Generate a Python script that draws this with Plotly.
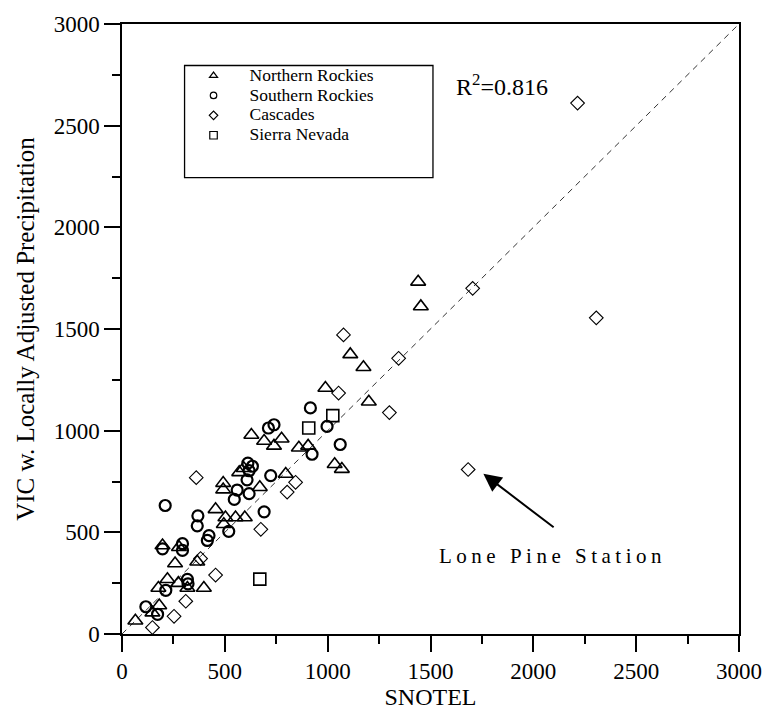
import plotly.graph_objects as go

# SNOTEL observed vs. VIC simulated (locally adjusted precipitation), by region
nr_snotel = [65, 148, 181, 177, 221, 274, 318, 398, 258, 197, 277, 366, 495, 455, 503, 552, 597,
             492, 492, 570, 592, 629, 670, 691, 739, 776, 796, 860, 905, 1034, 1069, 989, 1110,
             1174, 1200, 1440, 1453]
nr_vic = [65, 105, 140, 226, 269, 250, 226, 226, 347, 435, 427, 355, 540, 613, 573, 573, 573,
          742, 710, 795, 815, 979, 722, 949, 925, 960, 787, 916, 925, 835, 811, 1210, 1375,
          1312, 1142, 1732, 1611]

sr_snotel = [116, 173, 213, 318, 321, 197, 294, 294, 366, 369, 415, 423, 519, 210, 546, 560, 608,
             612, 634, 618, 618, 691, 723, 712, 739, 924, 916, 997, 1061]
sr_vic = [134, 97, 215, 269, 247, 419, 444, 411, 532, 581, 460, 484, 505, 632, 662, 708, 758,
          840, 825, 803, 690, 601, 779, 1013, 1029, 884, 1112, 1021, 932]

cs_snotel = [148, 253, 310, 455, 382, 361, 675, 803, 844, 1053, 1077, 1300, 1345, 1705, 1683,
             2215, 2306]
cs_vic = [32, 87, 161, 290, 371, 769, 515, 698, 746, 1185, 1471, 1089, 1356, 1700, 809,
          2611, 1555]

sn_snotel = [670, 908, 1025]
sn_vic = [270, 1013, 1074]

region_names = ["Northern Rockies", "Southern Rockies", "Cascades", "Sierra Nevada"]
r_squared = 0.816
axis_max = 3000
tick_values = [0, 500, 1000, 1500, 2000, 2500, 3000]

lone_pine = (1683, 809)
lone_pine_label = "Lone Pine Station"

FONT = "Liberation Serif"

series = [
    (nr_snotel, nr_vic, "triangle-up-open", 13, 1.6, 7),
    (sr_snotel, sr_vic, "circle-open", 11, 2.2, 6.5),
    (cs_snotel, cs_vic, "diamond-open", 10.5, 1.1, 6.5),
    (sn_snotel, sn_vic, "square-open", 12, 1.6, 7.5),
]

fig = go.Figure()

# 1:1 reference line
fig.add_trace(go.Scatter(
    x=[0, axis_max], y=[0, axis_max], mode="lines",
    line=dict(color="#333333", width=1, dash="6px,5px"),
    showlegend=False, hoverinfo="skip"))

for (xs, ys, sym, size, lw, _), name in zip(series, region_names):
    fig.add_trace(go.Scatter(
        x=xs, y=ys, mode="markers", name=name, showlegend=False,
        marker=dict(symbol=sym, size=size, color="black", line=dict(color="black", width=lw))))

# small legend glyphs
for (xs, ys, sym, size, lw, lsize), name in zip(series, region_names):
    fig.add_trace(go.Scatter(
        x=[None], y=[None], mode="markers",
        name=f'<span style="font-size:17.5px">{name}</span>',
        marker=dict(symbol=sym, size=lsize, color="black", line=dict(color="black", width=1.2))))

fig.add_annotation(
    x=1848, y=2700, xref="x", yref="y", showarrow=False,
    text=f"R<sup>2</sup>={r_squared}", font=dict(family=FONT, size=24, color="black"))

fig.add_annotation(
    x=lone_pine[0] + 74, y=lone_pine[1] - 21, ax=2106, ay=519, axref="x", ayref="y",
    xref="x", yref="y", text="", showarrow=True, arrowhead=2, arrowsize=1.8,
    arrowwidth=2, arrowcolor="black", standoff=0)

fig.add_annotation(
    x=2092, y=383, xref="x", yref="y", showarrow=False,
    text=f'<span style="letter-spacing:4.5px">{lone_pine_label}</span>',
    font=dict(family=FONT, size=21, color="black"))

# legend frame
fig.add_shape(type="rect", xref="paper", yref="paper",
              x0=0.1014, x1=0.504, y0=0.748, y1=0.932,
              line=dict(color="black", width=1.3), fillcolor="rgba(0,0,0,0)")

axis_common = dict(
    range=[0, axis_max], tickvals=tick_values, showgrid=False, zeroline=False,
    showline=True, linecolor="black", linewidth=1.5, mirror=True,
    ticks="outside", ticklen=16, tickwidth=1.5, tickcolor="black",
    minor=dict(dtick=250, ticks="outside", ticklen=8, tickwidth=1.5, tickcolor="black", showgrid=False),
    tickfont=dict(family=FONT, size=23, color="black"),
)

fig.update_xaxes(**axis_common,
                 title=dict(text="SNOTEL", font=dict(family=FONT, size=24, color="black"), standoff=2))
fig.update_yaxes(**axis_common,
                 title=dict(text="VIC w. Locally Adjusted Precipitation",
                            font=dict(family=FONT, size=25, color="black"), standoff=12))

fig.update_layout(
    width=774, height=715,
    margin=dict(l=122, r=31, t=15, b=81),
    paper_bgcolor="white", plot_bgcolor="white",
    font=dict(family=FONT, color="black"),
    legend=dict(x=0.09, y=0.94, xanchor="left", yanchor="top",
                bgcolor="rgba(0,0,0,0)", borderwidth=0, itemwidth=62,
                font=dict(family=FONT, size=13, color="black"), tracegroupgap=0),
)

fig.write_html("out.html")
